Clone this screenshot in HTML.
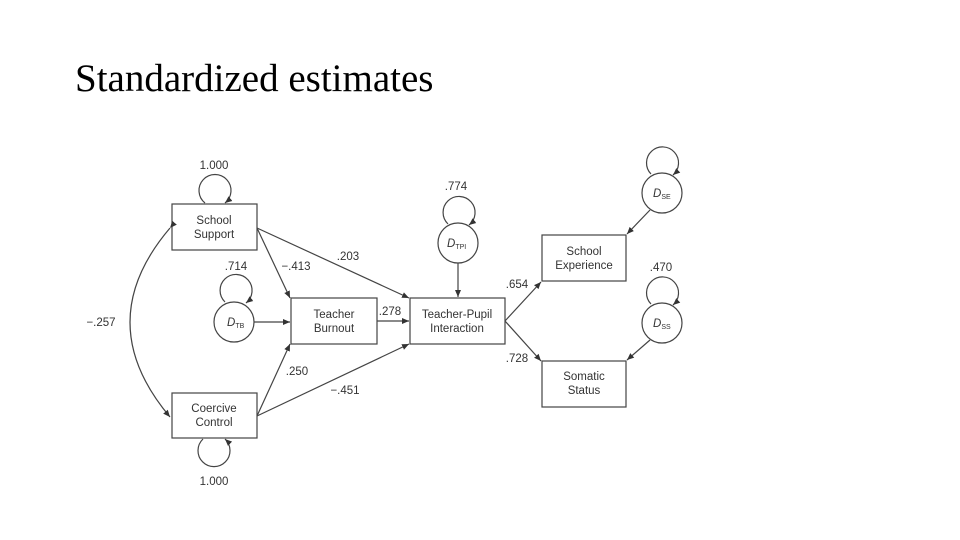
<!DOCTYPE html>
<html><head><meta charset="utf-8"><style>
body{margin:0;background:#fff;width:960px;height:540px;overflow:hidden}
.t{position:absolute;left:75px;top:56px;font-family:"Liberation Serif",serif;font-size:39px;color:#000}
svg{position:absolute;left:0;top:0}
text{font-family:"Liberation Sans",sans-serif;font-size:11.5px;fill:#333}
</style></head><body>
<div class="t">Standardized estimates</div>
<svg width="960" height="540" viewBox="0 0 960 540">
<defs><marker id="a" markerWidth="8" markerHeight="8" refX="7" refY="4" orient="auto" markerUnits="userSpaceOnUse"><path d="M0,1 L7,4 L0,7z" fill="#333"/></marker></defs>
<g stroke="#444" stroke-width="1.2" fill="none">
<rect x="172" y="204" width="85" height="46"/>
<rect x="291" y="298" width="86" height="46"/>
<rect x="410" y="298" width="95" height="46"/>
<rect x="172" y="393" width="85" height="45"/>
<rect x="542" y="235" width="84" height="46"/>
<rect x="542" y="361" width="84" height="46"/>
<circle cx="234" cy="322" r="20"/>
<circle cx="458" cy="243" r="20"/>
<circle cx="662" cy="193" r="20"/>
<circle cx="662" cy="323" r="20"/>
<!-- self loops -->
<path d="M205,203 A16,16 0 1 1 225,203" marker-end="url(#a)"/>
<path d="M225,203 A16,16 0 0 1 205,203" stroke="none"/>
<path d="M205,392 A16,16 0 1 1 225,392" stroke="none"/>
<path d="M203,439 A16,16 0 1 0 225,439" marker-end="url(#a)"/>
<path d="M225,302 A16,16 0 1 1 246,303" marker-end="url(#a)"/>
<path d="M448,224 A16,16 0 1 1 469,225" marker-end="url(#a)"/>
<path d="M651,174 A16,16 0 1 1 673,175" marker-end="url(#a)"/>
<path d="M651,304 A16,16 0 1 1 673,305" marker-end="url(#a)"/>
<!-- covariance -->
<path d="M170,228 Q90,322 170,417" marker-end="url(#a)" marker-start="url(#a)"/>
<!-- paths -->
<line x1="257" y1="228" x2="290" y2="298" marker-end="url(#a)"/>
<line x1="257" y1="228" x2="409" y2="298" marker-end="url(#a)"/>
<line x1="254" y1="322" x2="290" y2="322" marker-end="url(#a)"/>
<line x1="377" y1="321" x2="409" y2="321" marker-end="url(#a)"/>
<line x1="257" y1="416" x2="290" y2="344" marker-end="url(#a)"/>
<line x1="257" y1="416" x2="409" y2="344" marker-end="url(#a)"/>
<line x1="458" y1="263" x2="458" y2="297" marker-end="url(#a)"/>
<line x1="505" y1="321" x2="541" y2="282" marker-end="url(#a)"/>
<line x1="505" y1="321" x2="541" y2="361" marker-end="url(#a)"/>
<line x1="650" y1="210" x2="627" y2="234" marker-end="url(#a)"/>
<line x1="650" y1="340" x2="627" y2="360" marker-end="url(#a)"/>
</g>
<g text-anchor="middle">
<text x="214" y="224">School</text><text x="214" y="238">Support</text>
<text x="334" y="318">Teacher</text><text x="334" y="332">Burnout</text>
<text x="457" y="318">Teacher-Pupil</text><text x="457" y="332">Interaction</text>
<text x="214" y="412">Coercive</text><text x="214" y="426">Control</text>
<text x="584" y="255">School</text><text x="584" y="269">Experience</text>
<text x="584" y="380">Somatic</text><text x="584" y="394">Status</text>
<text x="214" y="169">1.000</text><text x="214" y="485">1.000</text>
<text x="236" y="270">.714</text><text x="456" y="190">.774</text>
<text x="661" y="271">.470</text>
<text x="101" y="326">−.257</text>
<text x="296" y="270">−.413</text>
<text x="348" y="260">.203</text>
<text x="390" y="315">.278</text>
<text x="297" y="375">.250</text>
<text x="345" y="394">−.451</text>
<text x="517" y="288">.654</text>
<text x="517" y="362">.728</text>
</g>
<g font-style="italic">
<text x="227" y="326">D<tspan font-size="7" font-style="normal" dy="2">TB</tspan></text>
<text x="447" y="247">D<tspan font-size="7" font-style="normal" dy="2">TPI</tspan></text>
<text x="653" y="197">D<tspan font-size="7" font-style="normal" dy="2">SE</tspan></text>
<text x="653" y="327">D<tspan font-size="7" font-style="normal" dy="2">SS</tspan></text>
</g>
</svg>
</body></html>
